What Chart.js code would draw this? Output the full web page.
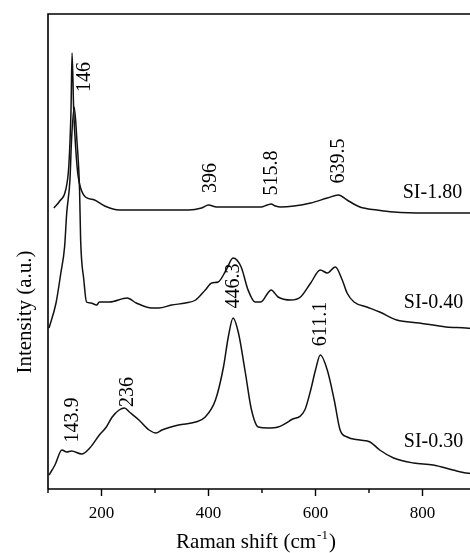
<!DOCTYPE html>
<html>
<head>
<meta charset="utf-8">
<script src="https://cdn.jsdelivr.net/npm/chart.js@4.4.1/dist/chart.umd.min.js"></script>
<style>
    html, body { margin: 0; padding: 0; background: #fff; overflow: hidden; }
    #wrap { width: 490px; height: 553px; position: relative; }
</style>
</head>
<body>
<div id="wrap"><canvas id="grafica"></canvas></div>
<script>
// Espectros Raman (desplazamiento en cm-1, intensidad en u.a. con desfase)
const shift180 = [111, 122, 133, 139, 143, 145, 148, 152, 156, 161, 170, 187, 206, 233, 302, 363, 387, 400, 415, 431, 498, 510, 517, 525, 535, 560, 591, 622, 643, 659, 683, 715, 746, 807, 881, 900];
const int180 = [281, 288, 299, 324, 379, 436, 379, 339, 314, 301, 292, 289, 283, 279, 279, 279, 281, 284, 282, 282, 282, 284, 285, 283, 282, 283, 286, 291, 294, 289, 282, 279, 277, 276, 276, 276];

const shift040 = [102, 115, 124, 131, 135, 141, 144, 149, 154, 159, 161, 167, 172, 180, 191, 196, 215, 248, 265, 294, 307, 331, 357, 376, 394, 406, 418, 433, 446, 461, 474, 487, 498, 511, 517, 530, 554, 572, 591, 609, 622, 637, 650, 659, 672, 696, 720, 752, 794, 844, 881, 900];
const int040 = [161, 186, 216, 242, 276, 309, 349, 382, 349, 299, 249, 209, 187, 186, 184, 187, 187, 191, 186, 181, 181, 184, 186, 189, 199, 206, 207, 219, 231, 222, 199, 187, 187, 196, 199, 192, 189, 192, 206, 219, 216, 222, 209, 196, 187, 182, 177, 169, 166, 162, 161, 160];

const shift030 = [102, 113, 126, 135, 144, 163, 178, 196, 209, 220, 233, 243, 252, 270, 289, 302, 313, 344, 376, 394, 413, 428, 437, 446, 456, 469, 480, 493, 511, 530, 554, 580, 591, 600, 609, 622, 635, 646, 659, 683, 702, 720, 746, 783, 820, 857, 881, 900];
const int030 = [14, 24, 39, 37, 38, 35, 41, 54, 62, 72, 79, 81, 77, 69, 59, 56, 59, 64, 67, 72, 89, 122, 152, 171, 156, 116, 80, 62, 61, 62, 69, 79, 99, 119, 134, 119, 89, 59, 52, 49, 47, 39, 31, 26, 24, 19, 16, 15];

const muestras = ['SI-1.80', 'SI-0.40', 'SI-0.30'];
const muestraX = [763, 765, 765];
const muestraY = [296, 186, 47];

// Etiquetas de picos
const picoTexto = ['146', '396', '515.8', '639.5', '446.3', '611.1', '143.9', '236'];
const picoX = [169, 404, 519, 644, 448, 609, 147, 249];
const picoY = [412, 311, 316, 328, 203, 165, 69, 97];

const ticksX = [200, 400, 600, 800];

const serif = "'Liberation Serif', 'Times New Roman', serif";

function puntos(xs, ys) {
    return xs.map((x, i) => ({ x: x, y: ys[i] }));
}

const decorado = {
    id: 'decorado',
    afterDraw(chart) {
        const ctx = chart.ctx;
        const area = chart.chartArea;
        const sx = chart.scales.x;
        const sy = chart.scales.y;
        ctx.save();
        ctx.strokeStyle = '#000';
        ctx.fillStyle = '#000';

        // marco
        ctx.lineWidth = 1.6;
        ctx.beginPath();
        ctx.moveTo(area.left, area.bottom);
        ctx.lineTo(area.left, area.top);
        ctx.lineTo(area.right + 20, area.top);
        ctx.moveTo(area.left, area.bottom);
        ctx.lineTo(area.right + 20, area.bottom);
        ctx.stroke();

        // marcas del eje x
        ctx.lineWidth = 1.4;
        for (let v = 100; v <= 900; v += 100) {
            const px = sx.getPixelForValue(v);
            const largo = ticksX.includes(v) ? 7 : 4;
            ctx.beginPath();
            ctx.moveTo(px, area.bottom);
            ctx.lineTo(px, area.bottom + largo);
            ctx.stroke();
        }

        // etiquetas de picos (giradas)
        ctx.font = '20px ' + serif;
        ctx.textAlign = 'center';
        ctx.textBaseline = 'middle';
        picoTexto.forEach((t, i) => {
            ctx.save();
            ctx.translate(sx.getPixelForValue(picoX[i]), sy.getPixelForValue(picoY[i]));
            ctx.rotate(-Math.PI / 2);
            ctx.fillText(t, 0, 0);
            ctx.restore();
        });

        // nombres de las muestras
        ctx.textAlign = 'left';
        muestras.forEach((m, i) => {
            ctx.fillText(m, sx.getPixelForValue(muestraX[i]), sy.getPixelForValue(muestraY[i]));
        });

        // título eje y
        ctx.save();
        ctx.font = '21px ' + serif;
        ctx.textAlign = 'center';
        ctx.translate(25, 312);
        ctx.rotate(-Math.PI / 2);
        ctx.fillText('Intensity (a.u.)', 0, 0);
        ctx.restore();

        // título eje x con superíndice
        ctx.textAlign = 'left';
        ctx.textBaseline = 'alphabetic';
        ctx.font = '21px ' + serif;
        const base = 'Raman shift (cm';
        const sup = '-1';
        const cierre = ')';
        const w1 = ctx.measureText(base).width;
        ctx.font = '13px ' + serif;
        const w2 = ctx.measureText(sup).width;
        ctx.font = '21px ' + serif;
        const w3 = ctx.measureText(cierre).width;
        let x0 = 255 - (w1 + w2 + w3) / 2;
        const yb = 548;
        ctx.fillText(base, x0, yb);
        ctx.font = '13px ' + serif;
        ctx.fillText(sup, x0 + w1 + 1, yb - 9);
        ctx.font = '21px ' + serif;
        ctx.fillText(cierre, x0 + w1 + w2 + 2, yb);

        ctx.restore();
    }
};

function renderizarGrafica() {
    const estilo = { borderColor: '#111', borderWidth: 1.5, pointRadius: 0, fill: false, cubicInterpolationMode: 'monotone' };
    new Chart(document.getElementById('grafica'), {
        type: 'line',
        data: {
            datasets: [
                Object.assign({ label: muestras[0], data: puntos(shift180, int180) }, estilo),
                Object.assign({ label: muestras[1], data: puntos(shift040, int040) }, estilo),
                Object.assign({ label: muestras[2], data: puntos(shift030, int030) }, estilo)
            ]
        },
        options: {
            responsive: true,
            maintainAspectRatio: false,
            animation: false,
            layout: { padding: { left: 48, top: 14, right: 10, bottom: 0 } },
            plugins: {
                legend: { display: false },
                tooltip: { enabled: false }
            },
            scales: {
                x: {
                    type: 'linear',
                    min: 100,
                    max: 900,
                    grid: { display: false, drawTicks: false },
                    border: { display: false },
                    ticks: {
                        stepSize: 100,
                        autoSkip: false,
                        maxRotation: 0,
                        padding: 14,
                        color: '#000',
                        font: { family: serif, size: 17 },
                        callback: v => ticksX.includes(v) ? String(v) : ''
                    },
                    afterFit: s => { s.height = 64; }
                },
                y: {
                    min: 0,
                    max: 475,
                    grid: { display: false, drawTicks: false },
                    border: { display: false },
                    ticks: { display: false },
                    afterFit: s => { s.width = 0; }
                }
            }
        },
        plugins: [decorado]
    });
}

document.addEventListener('DOMContentLoaded', renderizarGrafica);
</script>
</body>
</html>
